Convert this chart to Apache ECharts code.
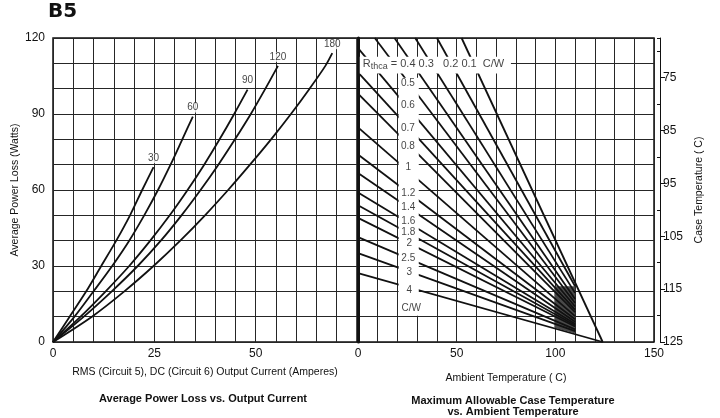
<!DOCTYPE html>
<html>
<head>
<meta charset="utf-8">
<script src="https://cdn.jsdelivr.net/npm/echarts@6/dist/echarts.min.js"></script>
<style>
html,body{margin:0;padding:0;background:#fff}
#chart{width:720px;height:418px}
</style>
</head>
<body>
<div id="chart"></div>
<script>
// ---- Average power loss vs. output current: [current (A), power (W)] per conduction angle ----
const conductionAngles = ['30', '60', '90', '120', '180'];
const loss30  = [[0,0],[4.1,10],[8.2,20],[11.9,30],[15.6,40],[19,50],[22,60],[24.8,69]];
const loss60  = [[0,0],[5.3,10],[10,20],[14.6,30],[18.8,40],[22.5,50],[25.9,60],[29,70],[31.9,80],[34.5,89]];
const loss90  = [[0,0],[6.8,10],[13,20],[18.8,30],[24,40],[28.8,50],[33.2,60],[37.3,70],[41.1,80],[44.7,90],[48,99.6]];
const loss120 = [[0,0],[7.6,10],[14.5,20],[20.9,30],[26.6,40],[31.7,50],[36.4,60],[40.8,70],[44.9,80],[48.8,90],[52.4,100],[55.5,109]];
const loss180 = [[0,0],[9.6,10],[17.6,20],[24.8,30],[31.4,40],[37.5,50],[43.2,60],[48.6,70],[53.8,80],[58.7,90],[63.3,100],[67.2,109],[68.9,114]];
const lossCurves = [loss30, loss60, loss90, loss120, loss180];

// ---- Max allowable ambient temperature lines: [ambient (C), power (W)] ----
const rthcaValues = ['0.1','0.2','0.3','0.4','0.5','0.6','0.7','0.8','1','1.2','1.4','1.6','1.8','2','2.5','3','4'];
const rthcaStart = [[52.5,120],[40,120],[29,120],[18.5,120],[8.5,120],[0,116],[0,106.4],[0,98],[0,84.7],[0,74],[0,66.7],[0,59],[0,54],[0,49],[0,41.4],[0,35.1],[0,27.2]];
const rthcaEnd   = [[124,0],[110,22],[110,19.4],[110,17],[110,15.4],[110,14],[110,12.8],[110,11.8],[110,10.2],[110,9],[110,8],[110,7.2],[110,6.6],[110,6.1],[110,5],[110,4.3],[124,0]];

// In-plot labels of the thermal resistance lines: [ambient (C), power (W)]
const rthcaTagText = ['0.5','0.6','0.7','0.8','1','1.2','1.4','1.6','1.8','2','2.5','3','4','C/W'];
const rthcaTagPos  = [[25.3,102.3],[25.3,93.6],[25.3,84.5],[25.3,77.4],[25.5,69.1],[25.5,58.8],[25.5,53.3],[25.5,47.7],[25.5,43.4],[26,39],[25.5,33.1],[26,27.6],[26,20.5],[27,13.3]];

// Shaded operating corner: [ambient (C), power (W)]
const shadeRegion = [[99.5,22],[110,22],[110,3.4],[99.5,5.6]];

// Case temperature axis: labelled ticks and intermediate ticks (C)
const caseTempLabels = [75, 85, 95, 105, 115, 125];
const caseTempMinor  = [67.5, 70, 80, 90, 100, 110, 120];

// Blank areas cleared behind the label column and the header row (data coordinates)
const labelColumnBox = [[20.6,104.3],[30.8,10.4]];
const headerRowBox   = [[0.9,112.6],[77.5,106]];

const FONT = '"Liberation Sans", Arial, Helvetica, sans-serif';
const INK = '#111';
const GRIDC = '#262626';

const chart = echarts.init(document.getElementById('chart'), null, {renderer: 'canvas'});

const gridLine = {show: true, lineStyle: {color: GRIDC, width: 1}};

function rectItem(box) {
  return function (params, api) {
    const a = api.coord(box[0]);
    const b = api.coord(box[1]);
    return {
      type: 'rect',
      shape: {x: Math.min(a[0], b[0]), y: Math.min(a[1], b[1]), width: Math.abs(b[0] - a[0]), height: Math.abs(b[1] - a[1])},
      style: {fill: '#fff'}
    };
  };
}

const series = [];

// Power loss curves
lossCurves.forEach((pts, i) => {
  series.push({
    type: 'line', name: conductionAngles[i], xAxisIndex: 0, yAxisIndex: 0,
    data: pts, smooth: 0.3, showSymbol: false, symbol: 'none',
    lineStyle: {color: INK, width: 1.8}, z: 3, silent: true
  });
});
// Conduction angle tags at curve ends
series.push({
  type: 'scatter', xAxisIndex: 0, yAxisIndex: 0, symbolSize: 0, z: 6, silent: true,
  data: lossCurves.map((pts, i) => ({value: pts[pts.length - 1], name: conductionAngles[i]})),
  label: {show: true, position: 'top', distance: 4, formatter: '{b}', color: INK, fontSize: 10, fontFamily: FONT,
          backgroundColor: '#fff', padding: [0, 1]}
});

// Shaded corner
series.push({
  type: 'custom', xAxisIndex: 1, yAxisIndex: 1, z: 2, silent: true,
  data: [0],
  renderItem: function (params, api) {
    return {type: 'polygon', shape: {points: shadeRegion.map(p => api.coord(p))}, style: {fill: '#4a4a4a'}};
  }
});

// Thermal resistance lines
rthcaValues.forEach((r, i) => {
  series.push({
    type: 'line', name: 'R' + r, xAxisIndex: 1, yAxisIndex: 1,
    data: [rthcaStart[i], rthcaEnd[i]], showSymbol: false, symbol: 'none',
    lineStyle: {color: INK, width: 1.8}, z: 3, silent: true
  });
});

// Cleared label column and header row
series.push({type: 'custom', xAxisIndex: 1, yAxisIndex: 1, z: 5, silent: true, data: [0], renderItem: rectItem(labelColumnBox)});
series.push({type: 'custom', xAxisIndex: 1, yAxisIndex: 1, z: 5, silent: true, data: [0], renderItem: rectItem(headerRowBox)});

// Line tags
series.push({
  type: 'scatter', xAxisIndex: 1, yAxisIndex: 1, symbolSize: 0, z: 7, silent: true,
  data: rthcaTagPos.map((p, i) => ({value: p, name: rthcaTagText[i]})),
  label: {show: true, position: 'inside', formatter: '{b}', color: INK, fontSize: 10, fontFamily: FONT}
});
// Header row text
series.push({
  type: 'scatter', xAxisIndex: 1, yAxisIndex: 1, symbolSize: 0, z: 7, silent: true,
  data: [{value: [2.4, 109.3], name: 'hdr'}],
  label: {
    show: true, position: 'right', distance: 0,
    formatter: '{r|R}{s|thca}{r| = 0.4 0.3   0.2 0.1  C/W}',
    rich: {
      r: {color: INK, fontSize: 11, fontFamily: FONT, verticalAlign: 'top', height: 14},
      s: {color: INK, fontSize: 9, fontFamily: FONT, verticalAlign: 'bottom', height: 14, padding: [3, 0, 0, 0]}
    }
  }
});

const caseAxisBase = {
  gridIndex: 1, type: 'value', position: 'right', offset: 6,
  min: 67.5, max: 125, inverse: true, splitLine: {show: false}
};

const option = {
  animation: false,
  backgroundColor: '#fff',
  textStyle: {fontFamily: FONT},
  title: [
    {text: 'B5', left: 43, top: -3,
     textStyle: {fontSize: 20, fontWeight: 'bold', color: INK, fontFamily: '"DejaVu Sans", sans-serif'}},
    {text: 'Average Power Loss vs. Output Current', left: 198, top: 388, textAlign: 'center',
     textStyle: {fontSize: 11, fontWeight: 'bold', color: INK, fontFamily: FONT}},
    {text: 'Maximum Allowable Case Temperature\nvs. Ambient Temperature', left: 508, top: 390, textAlign: 'center',
     textStyle: {fontSize: 11, fontWeight: 'bold', color: INK, fontFamily: FONT, lineHeight: 11}}
  ],
  grid: [
    {left: 53, top: 38, width: 304, height: 304, show: true, borderColor: INK, borderWidth: 1.5, backgroundColor: 'transparent'},
    {left: 358, top: 38, width: 296, height: 304, show: true, borderColor: INK, borderWidth: 1.5, backgroundColor: 'transparent'}
  ],
  xAxis: [
    {
      gridIndex: 0, type: 'value', min: 0, max: 75, interval: 25,
      axisLine: {show: false}, axisTick: {show: false},
      axisLabel: {showMaxLabel: false, color: INK, fontSize: 12, margin: 6, fontFamily: FONT},
      splitLine: gridLine, minorTick: {show: false, splitNumber: 5}, minorSplitLine: gridLine,
      name: 'RMS (Circuit 5), DC (Circuit 6) Output Current (Amperes)', nameLocation: 'middle', nameGap: 25,
      nameTextStyle: {fontSize: 10.5, color: INK, fontFamily: FONT}
    },
    {
      gridIndex: 1, type: 'value', min: 0, max: 150, interval: 50,
      axisLine: {show: false}, axisTick: {show: false},
      axisLabel: {color: INK, fontSize: 12, margin: 6, fontFamily: FONT},
      splitLine: gridLine, minorTick: {show: false, splitNumber: 5}, minorSplitLine: gridLine,
      name: 'Ambient Temperature ( C)', nameLocation: 'middle', nameGap: 31,
      nameTextStyle: {fontSize: 10.5, color: INK, fontFamily: FONT}
    }
  ],
  yAxis: [
    {
      gridIndex: 0, type: 'value', min: 0, max: 120, interval: 30,
      axisLine: {show: false}, axisTick: {show: false},
      axisLabel: {color: INK, fontSize: 12, margin: 8, fontFamily: FONT},
      splitLine: gridLine, minorTick: {show: false, splitNumber: 3}, minorSplitLine: gridLine,
      name: 'Average Power Loss (Watts)', nameLocation: 'middle', nameGap: 28,
      nameTextStyle: {fontSize: 10.5, color: INK, fontFamily: FONT}
    },
    {
      gridIndex: 1, type: 'value', min: 0, max: 120, interval: 30,
      axisLine: {show: true, lineStyle: {color: INK, width: 3}}, axisTick: {show: false},
      axisLabel: {show: false},
      splitLine: gridLine, minorTick: {show: false, splitNumber: 3}, minorSplitLine: gridLine
    },
    Object.assign({}, caseAxisBase, {
      axisLine: {show: true, lineStyle: {color: INK, width: 1}},
      axisTick: {show: true, inside: false, length: 5, customValues: caseTempLabels, lineStyle: {color: INK, width: 1}},
      axisLabel: {show: true, customValues: caseTempLabels, color: INK, fontSize: 12, margin: 3, fontFamily: FONT},
      name: 'Case Temperature ( C)', nameLocation: 'middle', nameGap: 34, nameRotate: 90,
      nameTextStyle: {fontSize: 10.5, color: INK, fontFamily: FONT}
    }),
    Object.assign({}, caseAxisBase, {
      axisLine: {show: false},
      axisTick: {show: true, inside: true, length: 3, customValues: caseTempMinor, lineStyle: {color: INK, width: 1}},
      axisLabel: {show: false}
    })
  ],
  series: series
};

chart.setOption(option);
</script>
</body>
</html>
